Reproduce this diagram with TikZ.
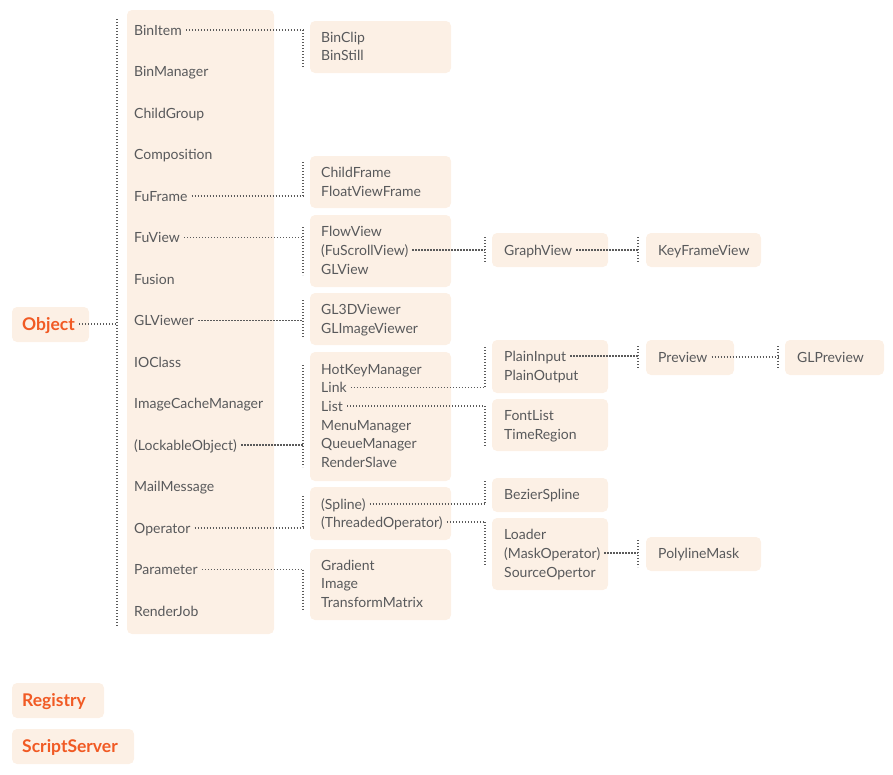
\documentclass[tikz,border=0pt]{standalone}
\usepackage{fontspec}
\setmainfont{Lato}
\usetikzlibrary{fit}
\definecolor{boxfill}{HTML}{FCF0E5}
\definecolor{txt}{HTML}{58595B}
\definecolor{org}{HTML}{F15A24}
\definecolor{dotc}{HTML}{5A5A5A}
\tikzset{
  bx/.style={fill=boxfill, draw=none, rounded corners=5pt, inner sep=0pt},
  it/.style={anchor=west, inner sep=0pt, text height=10pt, text depth=0pt, text=txt, font=\fontsize{14}{17}\selectfont},
  hd/.style={anchor=west, inner sep=0pt, text height=12pt, text depth=0pt, text=org, font=\fontsize{17.5}{20}\selectfont\bfseries},
  dl/.style={draw=dotc, line width=1.4pt, dash pattern=on 1.4pt off 1.6pt},
  cn/.style={dl, shorten <=4pt}
}
\begin{document}
\begin{tikzpicture}[x=1pt,y=-1pt]
\useasboundingbox (0,0) rectangle (893,774);
% ---------- boxes ----------
\node[bx, fit={(12,307) (89,342)}] (objbox) {};
\node[bx, fit={(12,683) (104,718)}] (regbox) {};
\node[bx, fit={(12,729) (134,764)}] (ssbox) {};
\node[bx, fit={(127,10) (274,634)}] (mainbox) {};
\node[bx, fit={(310,21) (451,73)}] (bx1) {};
\node[bx, fit={(310,156) (451,208)}] (bx2) {};
\node[bx, fit={(310,215) (451,287)}] (bx3) {};
\node[bx, fit={(310,293) (451,345)}] (bx4) {};
\node[bx, fit={(310,352) (451,481)}] (bx5) {};
\node[bx, fit={(310,487) (451,540)}] (bx6) {};
\node[bx, fit={(310,549) (451,620)}] (bx7) {};
\node[bx, fit={(492,233) (608,267)}] (bx8) {};
\node[bx, fit={(492,340) (608,393)}] (bx9) {};
\node[bx, fit={(492,399) (608,451)}] (bx10) {};
\node[bx, fit={(492,478) (608,512)}] (bx11) {};
\node[bx, fit={(492,518) (608,590)}] (bx12) {};
\node[bx, fit={(646,233) (761,267)}] (bx13) {};
\node[bx, fit={(646,340) (734,375)}] (bx14) {};
\node[bx, fit={(646,537) (761,571)}] (bx15) {};
\node[bx, fit={(785,340) (884,375)}] (bx16) {};
% ---------- headings ----------
\node[hd] (object) at (22,324) {Object};
\node[hd] (registry) at (22,700) {Registry};
\node[hd] (scriptserver) at (22,746) {ScriptServer};
% ---------- main column ----------
\node[it] (binitem) at (134,30) {BinItem};
\node[it] (binmanager) at (134,71.5) {BinManager};
\node[it] (childgroup) at (134,113) {ChildGroup};
\node[it] (composition) at (134,154.5) {Composition};
\node[it] (fuframe) at (134,196) {FuFrame};
\node[it] (fuview) at (134,237.5) {FuView};
\node[it] (fusion) at (134,279) {Fusion};
\node[it] (glviewer) at (134,320.5) {GLViewer};
\node[it] (ioclass) at (134,362) {IOClass};
\node[it] (imagecache) at (134,403.5) {ImageCacheManager};
\node[it] (lockable) at (134,445) {(LockableObject)};
\node[it] (mailmessage) at (134,486.5) {MailMessage};
\node[it] (operator) at (134,528) {Operator};
\node[it] (parameter) at (134,569.5) {Parameter};
\node[it] (renderjob) at (134,611) {RenderJob};
% ---------- second column ----------
\node[it] (binclip) at (321,37) {BinClip};
\node[it] (binstill) at (321,55.5) {BinStill};
\node[it] (childframe) at (321,172) {ChildFrame};
\node[it] (floatviewframe) at (321,191) {FloatViewFrame};
\node[it] (flowview) at (321,231) {FlowView};
\node[it] (fuscrollview) at (321,250) {(FuScrollView)};
\node[it] (glview) at (321,269) {GLView};
\node[it] (gl3d) at (321,309) {GL3DViewer};
\node[it] (glimage) at (321,328) {GLImageViewer};
\node[it] (hotkey) at (321,369) {HotKeyManager};
\node[it] (link) at (321,387.5) {Link};
\node[it] (list) at (321,406) {List};
\node[it] (menu) at (321,425) {MenuManager};
\node[it] (queue) at (321,443.5) {QueueManager};
\node[it] (renderslave) at (321,462) {RenderSlave};
\node[it] (spline) at (321,504) {(Spline)};
\node[it] (threaded) at (321,522) {(ThreadedOperator)};
\node[it] (gradient) at (321,565) {Gradient};
\node[it] (image) at (321,583.5) {Image};
\node[it] (transform) at (321,602) {TransformMatrix};
% ---------- third column ----------
\node[it] (graphview) at (504,250) {GraphView};
\node[it] (plaininput) at (504,356) {PlainInput};
\node[it] (plainoutput) at (504,375) {PlainOutput};
\node[it] (fontlist) at (504,415) {FontList};
\node[it] (timeregion) at (504,434) {TimeRegion};
\node[it] (bezier) at (504,494) {BezierSpline};
\node[it] (loader) at (504,534) {Loader};
\node[it] (maskop) at (504,553) {(MaskOperator)};
\node[it] (sourceop) at (504,572) {SourceOpertor};
% ---------- fourth / fifth columns ----------
\node[it] (keyframe) at (658,250) {KeyFrameView};
\node[it] (preview) at (658,357) {Preview};
\node[it] (polyline) at (658,553) {PolylineMask};
\node[it] (glpreview) at (797,357) {GLPreview};
% ---------- bracket coordinates ----------
\coordinate (mt) at (117,19);   \coordinate (mb) at (117,627);
\coordinate (k1t) at (303,30);  \coordinate (k1b) at (303,67);
\coordinate (k2t) at (303,162); \coordinate (k2b) at (303,196);
\coordinate (k3t) at (303,227); \coordinate (k3b) at (303,275);
\coordinate (k4t) at (303,300); \coordinate (k4b) at (303,337);
\coordinate (k5t) at (303,365); \coordinate (k5b) at (303,467);
\coordinate (k6t) at (303,496); \coordinate (k6b) at (303,528);
\coordinate (k7t) at (303,569.5); \coordinate (k7b) at (303,610);
\coordinate (k8t) at (485,237); \coordinate (k8b) at (485,263);
\coordinate (k9t) at (485,347); \coordinate (k9b) at (485,387.5);
\coordinate (k10t) at (485,406); \coordinate (k10b) at (485,447);
\coordinate (k11t) at (485,481); \coordinate (k11b) at (485,504);
\coordinate (k12t) at (485,522); \coordinate (k12b) at (485,565);
\coordinate (k13t) at (638,237); \coordinate (k13b) at (638,263);
\coordinate (k14t) at (638,346); \coordinate (k14b) at (638,369);
\coordinate (k15t) at (638,540); \coordinate (k15b) at (638,567);
\coordinate (k16t) at (778,346); \coordinate (k16b) at (778,369);
% ---------- brackets ----------
\foreach \k in {m,k1,k2,k3,k4,k5,k6,k7,k8,k9,k10,k11,k12,k13,k14,k15,k16}
  \draw[dl] (\k t) -- (\k b);
% ---------- connectors ----------
\draw[cn] (object.east) -- (object.east -| mt);
\draw[cn] (binitem.east) -- (binitem.east -| k1t);
\draw[cn] (fuframe.east) -- (fuframe.east -| k2t);
\draw[cn] (fuview.east) -- (fuview.east -| k3t);
\draw[cn] (glviewer.east) -- (glviewer.east -| k4t);
\draw[cn] (lockable.east) -- (lockable.east -| k5t);
\draw[cn] (operator.east) -- (operator.east -| k6t);
\draw[cn] (parameter.east) -- (parameter.east -| k7t);
\draw[cn] (fuscrollview.east) -- (fuscrollview.east -| k8t);
\draw[cn] (link.east) -- (link.east -| k9t);
\draw[cn] (list.east) -- (list.east -| k10t);
\draw[cn] (spline.east) -- (spline.east -| k11t);
\draw[cn] (threaded.east) -- (threaded.east -| k12t);
\draw[cn] (graphview.east) -- (graphview.east -| k13t);
\draw[cn] (plaininput.east) -- (plaininput.east -| k14t);
\draw[cn] (maskop.east) -- (maskop.east -| k15t);
\draw[cn] (preview.east) -- (preview.east -| k16t);
\end{tikzpicture}
\end{document}
